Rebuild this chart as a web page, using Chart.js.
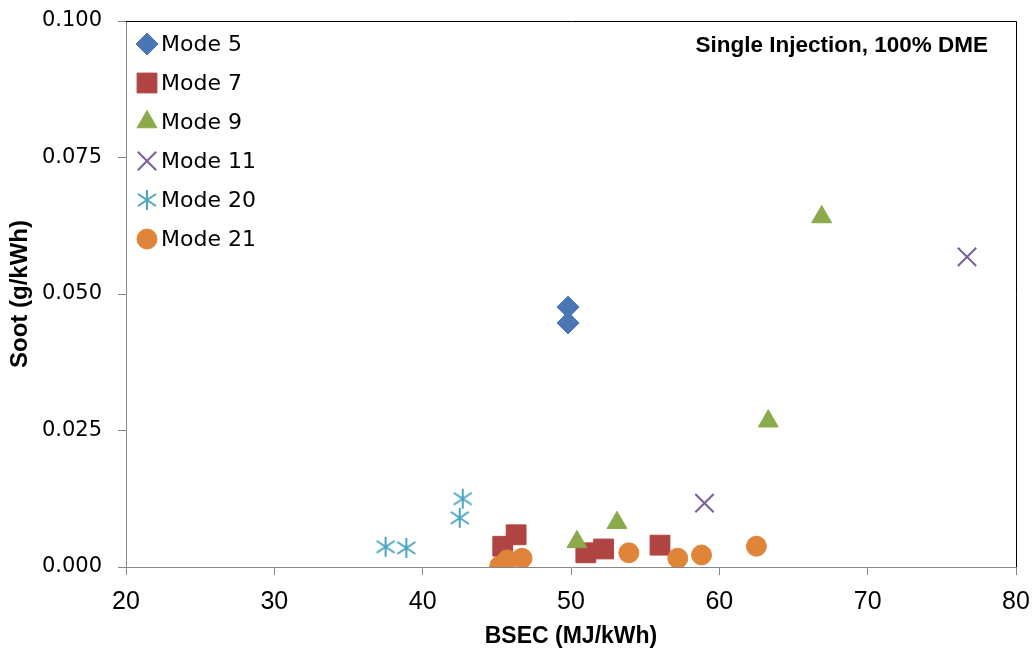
<!DOCTYPE html>
<html lang="en">
<head>
<meta charset="UTF-8">
<title>Soot vs BSEC</title>
<style>
  html, body { margin: 0; padding: 0; background: #fff; }
  #wrap { width: 1032px; height: 654px; position: relative; }
</style>
</head>
<body>
<div id="wrap"><canvas id="myChart"></canvas></div>
<script src="https://cdn.jsdelivr.net/npm/chart.js@4"></script>
<script>
// --- data ---
const seriesNames = ['Mode 5', 'Mode 7', 'Mode 9', 'Mode 11', 'Mode 20', 'Mode 21'];

const mode5Bsec = [49.8, 49.8];
const mode5Soot = [0.0476, 0.0447];

const mode7Bsec = [45.4, 46.3, 51.0, 52.2, 56.0];
const mode7Soot = [0.0038, 0.0059, 0.0026, 0.0033, 0.0040];

const mode9Bsec = [50.4, 53.1, 63.3, 66.9];
const mode9Soot = [0.0046, 0.0081, 0.0267, 0.0641];

const mode11Bsec = [59.0, 76.7];
const mode11Soot = [0.0117, 0.0568];

const mode20Bsec = [37.5, 38.9, 42.5, 42.7];
const mode20Soot = [0.0037, 0.0035, 0.0090, 0.0125];

const mode21Bsec = [45.2, 45.7, 46.7, 53.9, 57.2, 58.8, 62.5];
const mode21Soot = [0.0002, 0.0013, 0.0016, 0.0026, 0.0016, 0.0022, 0.0038];

const xTicks = [20, 30, 40, 50, 60, 70, 80];
const yTicks = [0, 0.025, 0.05, 0.075, 0.1];

const chartNote = 'Single Injection, 100% DME';
const xTitle = 'BSEC (MJ/kWh)';
const yTitle = 'Soot (g/kWh)';

// asterisk marker (vertical bar + X), like the spreadsheet one
function makeStar(color) {
    const c = document.createElement('canvas');
    c.width = 22; c.height = 22;
    const g = c.getContext('2d');
    g.strokeStyle = color;
    g.lineWidth = 2;
    g.beginPath();
    g.moveTo(11, 1); g.lineTo(11, 21);
    g.moveTo(2, 5); g.lineTo(20, 17);
    g.moveTo(20, 5); g.lineTo(2, 17);
    g.stroke();
    return c;
}

const colores = ['#4A77B4', '#B04443', '#8AAA4B', '#7A5E9E', '#4AA4C1', '#E0843A'];
const estilos = ['rectRot', 'rect', 'triangle', 'crossRot', makeStar(colores[4]), 'circle'];
const radios = [11, 14, 11.5, 13, 11, 10];

function puntos(xs, ys) {
    return xs.map((x, i) => ({ x: x, y: ys[i] }));
}

const series = [
    puntos(mode5Bsec, mode5Soot),
    puntos(mode7Bsec, mode7Soot),
    puntos(mode9Bsec, mode9Soot),
    puntos(mode11Bsec, mode11Soot),
    puntos(mode20Bsec, mode20Soot),
    puntos(mode21Bsec, mode21Soot),
];

const datasets = series.map((data, i) => ({
    label: seriesNames[i],
    data: data,
    pointStyle: estilos[i],
    pointRadius: radios[i],
    pointHoverRadius: radios[i],
    backgroundColor: colores[i],
    borderColor: colores[i],
    borderWidth: i === 3 ? 2 : 1,
    order: series.length - i, // later series on top
}));

// legend inside the plot, top-left
const leyenda = {
    id: 'leyenda',
    afterDraw(chart) {
        const ctx = chart.ctx;
        ctx.save();
        chart.data.datasets.forEach((ds, i) => {
            const y = 44 + i * 39;
            ctx.fillStyle = ds.backgroundColor;
            ctx.strokeStyle = ds.borderColor;
            ctx.lineWidth = ds.borderWidth;
            Chart.helpers.drawPoint(ctx, {
                pointStyle: ds.pointStyle,
                radius: ds.pointRadius,
                rotation: 0,
                borderWidth: ds.borderWidth,
            }, 147, y);
            ctx.fillStyle = '#000';
            ctx.font = '22px "DejaVu Sans"';
            ctx.textBaseline = 'middle';
            ctx.textAlign = 'left';
            ctx.fillText(ds.label, 161, y + 1);
        });
        // note top-right
        ctx.font = 'bold 22.5px "Liberation Sans"';
        ctx.textAlign = 'right';
        ctx.fillText(chartNote, 988, 46);

        // frame top and right
        const a = chart.chartArea;
        ctx.strokeStyle = '#000';
        ctx.lineWidth = 1;
        ctx.beginPath();
        ctx.moveTo(a.left, a.top + 0.5);
        ctx.lineTo(a.right + 0.5, a.top + 0.5);
        ctx.lineTo(a.right + 0.5, a.bottom);
        ctx.stroke();
        ctx.restore();
    }
};

const ctx = document.getElementById('myChart').getContext('2d');
const grafico = new Chart(ctx, {
    type: 'scatter',
    data: { datasets: datasets },
    options: {
        responsive: true,
        maintainAspectRatio: false,
        animation: false,
        layout: { padding: { top: 21, right: 16, left: 0, bottom: 0 } },
        plugins: {
            legend: { display: false },
            tooltip: { enabled: false },
        },
        scales: {
            x: {
                type: 'linear',
                min: 20,
                max: 80,
                afterBuildTicks: (s) => { s.ticks = xTicks.map(v => ({ value: v })); },
                afterFit: (s) => {
                    s.height = 87;
                    s.paddingLeft = 0;
                    s.paddingRight = 0;
                },
                ticks: {
                    color: '#000',
                    padding: 12,
                    font: { family: '"Liberation Sans"', size: 25 },
                },
                grid: { drawOnChartArea: false, tickLength: 8, color: '#868686' },
                border: { color: '#868686' },
                title: {
                    display: true,
                    text: xTitle,
                    color: '#000',
                    font: { family: '"Liberation Sans"', size: 23, weight: 'bold' },
                    padding: { top: 4 },
                },
            },
            y: {
                type: 'linear',
                min: 0,
                max: 0.1,
                afterBuildTicks: (s) => { s.ticks = yTicks.map(v => ({ value: v })); },
                afterFit: (s) => {
                    s.width = 126;
                    s.paddingTop = 0;
                    s.paddingBottom = 0;
                },
                ticks: {
                    color: '#000',
                    padding: 16,
                    font: { family: '"DejaVu Sans"', size: 21 },
                    callback: (v) => Number(v).toFixed(3),
                },
                grid: { drawOnChartArea: false, tickLength: 8, color: '#868686' },
                border: { color: '#868686' },
                title: {
                    display: true,
                    text: yTitle,
                    color: '#000',
                    font: { family: '"Liberation Sans"', size: 24, weight: 'bold' },
                    padding: { top: 6 },
                },
            },
        },
    },
    plugins: [leyenda],
});
</script>
</body>
</html>
